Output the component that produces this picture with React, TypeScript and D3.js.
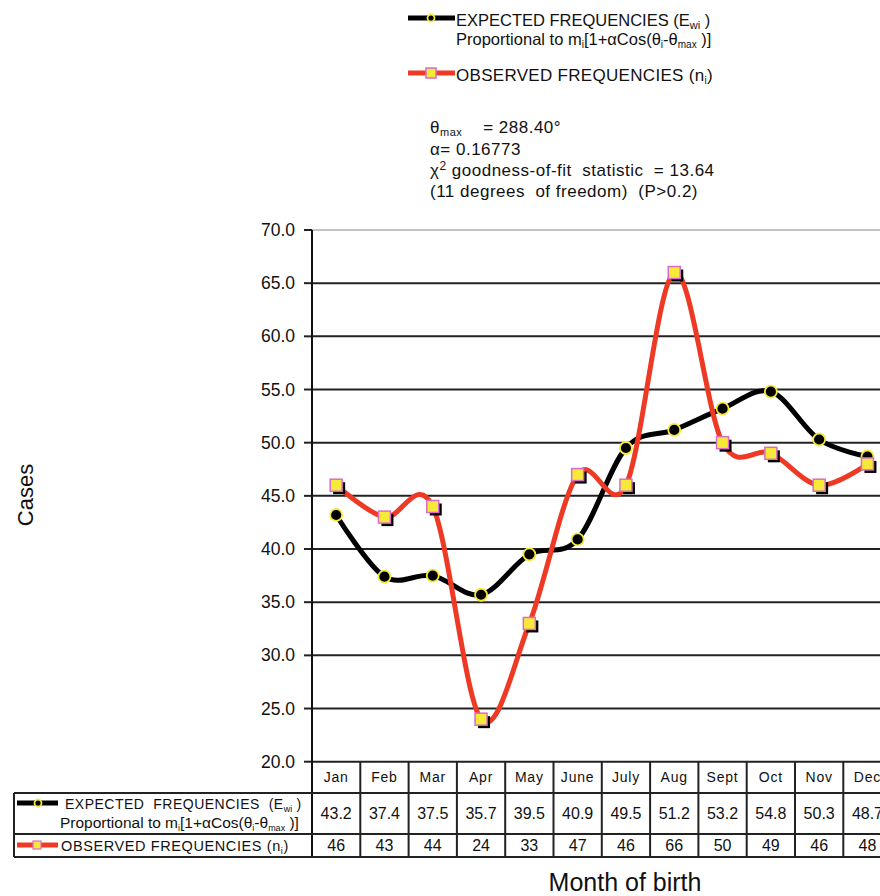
import React from "react";
import * as d3 from "d3";

const months = ["Jan", "Feb", "Mar", "Apr", "May", "June", "July", "Aug", "Sept", "Oct", "Nov", "Dec"];
const expected = [43.2, 37.4, 37.5, 35.7, 39.5, 40.9, 49.5, 51.2, 53.2, 54.8, 50.3, 48.7];
const observed = [46, 43, 44, 24, 33, 47, 46, 66, 50, 49, 46, 48];
const yTicks = [20, 25, 30, 35, 40, 45, 50, 55, 60, 65, 70];

const FONT = "'Liberation Sans', Arial, sans-serif";

export default function App() {
  const left = 312;
  const colW = 48.3;
  const x = d3.scaleBand<string>().domain(months).range([left, left + 12 * colW]);
  const y = d3.scaleLinear().domain([20, 70]).range([761.7, 230]);
  const cx = (m: string) => (x(m) as number) + x.bandwidth() / 2;

  const line = d3
    .line<number>()
    .x((_, i) => cx(months[i]))
    .y((d) => y(d))
    .curve(d3.curveCardinal.tension(0));

  const tableTop = y(20);
  const row1 = 793;
  const row2 = 834;
  const row3 = 857;

  const yellow = "#f7e93a";
  const pink = "#d86cc8";
  const red = "#ee3a24";

  const circleMarker = (px: number, py: number, r: number, key?: any) => (
    <circle key={key} cx={px} cy={py} r={r} fill="#000" stroke={yellow} strokeWidth={1.8} />
  );
  const squareMarker = (px: number, py: number, s: number, key?: any) => (
    <g key={key}>
      <rect x={px - s / 2 + 3} y={py - s / 2 + 3} width={s} height={s} fill="#000" />
      <rect x={px - s / 2} y={py - s / 2} width={s} height={s} fill={yellow} stroke={pink} strokeWidth={1.5} />
    </g>
  );

  const pre = { whiteSpace: "pre" as const };

  return (
    <svg
      width={880}
      height={896}
      style={{ position: "absolute", left: 0, top: 0, background: "#fff" }}
      fontFamily={FONT}
    >
      <rect width={880} height={896} fill="#fff" />

      {/* Top legend */}
      <line x1={408} x2={455} y1={18} y2={18} stroke="#000" strokeWidth={5} />
      {circleMarker(431, 18, 3.5)}
      <text x={456} y={26} fontSize={16.5} fill="#111" style={pre} xmlSpace="preserve">
        {"EXPECTED FREQUENCIES (E"}
        <tspan fontSize={11} dy={3}>wi</tspan>
        <tspan dy={-3}>{" )"}</tspan>
      </text>
      <text x={456} y={45} fontSize={16.5} fill="#111" style={pre} xmlSpace="preserve">
        {"Proportional to m"}
        <tspan fontSize={10} dy={3}>i</tspan>
        <tspan dy={-3}>[1+αCos(θ</tspan>
        <tspan fontSize={10} dy={3}>i</tspan>
        <tspan dy={-3}>-θ</tspan>
        <tspan fontSize={10} dy={3}>max</tspan>
        <tspan dy={-3}>{" )]"}</tspan>
      </text>
      <line x1={408} x2={455} y1={73} y2={73} stroke={red} strokeWidth={5} />
      <rect x={426} y={68} width={10} height={10} fill={yellow} stroke={pink} strokeWidth={1.5} />
      <text x={456} y={81} fontSize={17} fill="#111" letterSpacing={0.3} style={pre} xmlSpace="preserve">
        {"OBSERVED FREQUENCIES (n"}
        <tspan fontSize={10} dy={3}>i</tspan>
        <tspan dy={-3}>)</tspan>
      </text>

      {/* Stats */}
      <g fontSize={17} fill="#111" letterSpacing={0.5}>
        <text x={430} y={133} style={pre} xmlSpace="preserve">
          θ<tspan fontSize={11} dy={3}>max</tspan>
          <tspan dy={-3}>{"    = 288.40°"}</tspan>
        </text>
        <text x={430} y={155} style={pre} xmlSpace="preserve">{"α= 0.16773"}</text>
        <text x={430} y={176} style={pre} xmlSpace="preserve">
          χ<tspan fontSize={12} dy={-6}>2</tspan>
          <tspan dy={6}>{" goodness-of-fit  statistic  = 13.64"}</tspan>
        </text>
        <text x={430} y={197} style={pre} xmlSpace="preserve">{"(11 degrees  of freedom)  (P>0.2)"}</text>
      </g>

      {/* Gridlines */}
      {yTicks.map((t) => (
        <g key={t}>
          <line
            x1={left}
            x2={880}
            y1={y(t)}
            y2={y(t)}
            stroke={t === 70 ? "#888" : "#222"}
            strokeWidth={t === 70 ? 1.2 : 2}
          />
          <line x1={304} x2={left} y1={y(t)} y2={y(t)} stroke="#222" strokeWidth={2} />
          <text x={295} y={y(t) + 6} fontSize={17.5} textAnchor="end" fill="#111">
            {t.toFixed(1)}
          </text>
        </g>
      ))}
      <line x1={left} x2={left} y1={230} y2={row3} stroke="#111" strokeWidth={2} />

      {/* Y label */}
      <text
        transform={`translate(33,495) rotate(-90)`}
        fontSize={22}
        textAnchor="middle"
        fill="#111"
      >
        Cases
      </text>

      {/* Lines */}
      <path d={line(expected) as string} fill="none" stroke="#000" strokeWidth={5} />
      <path d={line(observed) as string} fill="none" stroke={red} strokeWidth={5} />
      {expected.map((v, i) => circleMarker(cx(months[i]), y(v), 6, "e" + i))}
      {observed.map((v, i) => squareMarker(cx(months[i]), y(v), 12, "o" + i))}

      {/* Data table */}
      <g stroke="#222" strokeWidth={2}>
        <line x1={14} x2={880} y1={row1} y2={row1} />
        <line x1={14} x2={880} y1={row2} y2={row2} />
        <line x1={14} x2={880} y1={row3} y2={row3} />
        <line x1={14} x2={14} y1={row1} y2={row3} />
        {months.map((m) => (
          <line
            key={m}
            x1={(x(m) as number) + colW}
            x2={(x(m) as number) + colW}
            y1={tableTop}
            y2={row3}
          />
        ))}
      </g>
      {months.map((m, i) => (
        <g key={m} fill="#111" textAnchor="middle">
          <text x={cx(m)} y={782} fontSize={14} letterSpacing={0.8}>
            {m}
          </text>
          <text x={cx(m)} y={819} fontSize={16}>
            {expected[i].toFixed(1)}
          </text>
          <text x={cx(m)} y={851} fontSize={16}>
            {observed[i]}
          </text>
        </g>
      ))}

      {/* Table legend */}
      <line x1={17} x2={58} y1={803} y2={803} stroke="#000" strokeWidth={5} />
      {circleMarker(38, 803, 3.5)}
      <text x={65} y={809} fontSize={14} fill="#111" letterSpacing={0.5} style={pre} xmlSpace="preserve">
        {"EXPECTED  FREQUENCIES  (E"}
        <tspan fontSize={9} dy={3} letterSpacing={0}>wi</tspan>
        <tspan dy={-3}>{" )"}</tspan>
      </text>
      <text x={60} y={828} fontSize={15.5} fill="#111" style={pre} xmlSpace="preserve">
        {"Proportional to m"}
        <tspan fontSize={9} dy={3}>i</tspan>
        <tspan dy={-3}>[1+αCos(θ</tspan>
        <tspan fontSize={9} dy={3}>i</tspan>
        <tspan dy={-3}>-θ</tspan>
        <tspan fontSize={9} dy={3}>max</tspan>
        <tspan dy={-3}>{" )]"}</tspan>
      </text>
      <line x1={17} x2={58} y1={845} y2={845} stroke={red} strokeWidth={5} />
      <rect x={33} y={841} width={8} height={8} fill={yellow} stroke={pink} strokeWidth={1.2} />
      <text x={61} y={851} fontSize={14.5} fill="#111" letterSpacing={0.6} style={pre} xmlSpace="preserve">
        {"OBSERVED FREQUENCIES (n"}
        <tspan fontSize={9} dy={3}>i</tspan>
        <tspan dy={-3}>)</tspan>
      </text>

      {/* X label */}
      <text x={625} y={891} fontSize={25} textAnchor="middle" fill="#111">
        Month of birth
      </text>
    </svg>
  );
}
